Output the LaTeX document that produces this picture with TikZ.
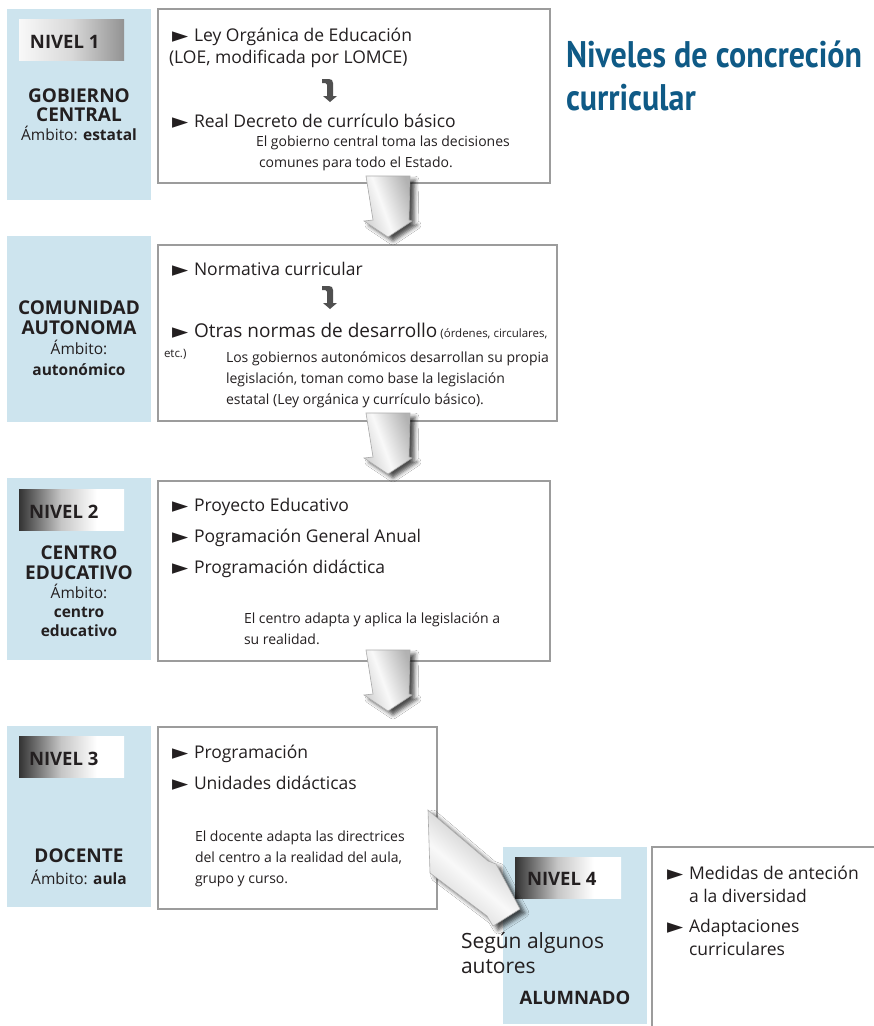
\documentclass[tikz,border=0pt]{standalone}
\usepackage{fontspec}
\setmainfont{Open Sans}
\newfontfamily\symfont{DejaVu Sans}
\newfontfamily\titlefont[FakeStretch=0.865]{PT Sans}
\usetikzlibrary{shadows.blur}
\definecolor{panelblue}{HTML}{CDE4EE}
\definecolor{boxgray}{HTML}{9C9C9C}
\definecolor{titleblue}{HTML}{0F5A86}
\definecolor{txt}{HTML}{231F20}
\definecolor{hookgray}{HTML}{505050}
\pgfdeclarehorizontalshading{nivdark}{100bp}{color(0bp)=(black!80); color(25bp)=(black!80); color(45bp)=(gray!45); color(62bp)=(white); color(100bp)=(white)}
\pgfdeclarehorizontalshading{nivlight}{100bp}{color(0bp)=(gray!5); color(25bp)=(gray!5); color(50bp)=(gray!30); color(75bp)=(gray!85); color(100bp)=(gray!85)}
\pgfdeclarehorizontalshading{arrsh}{100bp}{color(0bp)=(gray!35); color(25bp)=(gray!35); color(45bp)=(white!95!gray); color(75bp)=(gray!60); color(100bp)=(gray!60)}
\newcommand\tri{\makebox[22pt][l]{\symfont\fontsize{21}{21}\selectfont\raisebox{-1pt}{►}}}
\begin{document}
\begin{tikzpicture}[x=1pt,y=-1pt,
  every node/.style={inner sep=0pt, outer sep=0pt, text=txt},
  panel/.style={fill=panelblue, anchor=north west},
  cbox/.style={draw=boxgray, line width=1.4pt, fill=white, anchor=north west},
  lbl/.style={anchor=base west, font=\fontsize{17.5}{21}\selectfont},
  note/.style={anchor=base west, font=\fontsize{14}{21}\selectfont},
  side/.style={anchor=base, font=\fontsize{19}{19}\selectfont\bfseries},
  amb/.style={anchor=base, font=\fontsize{15.5}{20}\selectfont},
  nivbox/.style={anchor=north west, minimum width=105pt, minimum height=41pt, shading=#1},
  nivtxt/.style={anchor=base west, font=\fontsize{18.5}{20}\selectfont\bfseries},
  bigarrow/.style={draw=gray!65, line width=0.6pt, shading=arrsh, shading angle=20,
     blur shadow={shadow xshift=5pt, shadow yshift=-4pt, shadow blur radius=4pt, shadow opacity=70}},
  downarrow/.pic={\path[bigarrow] (-22,0) -- (-15,44) -- (-24,45) -- (0,61) -- (24,45) -- (21,44) -- (22,0) -- cycle;},
  hook/.pic={\fill[hookgray] (0,0) -- (7,0) .. controls (9.5,0) and (11,1.5) .. (11,4) -- (11,17) -- (15,17) -- (8,23) -- (1,17) -- (5,17) -- (5,5.5) .. controls (5,4.5) and (4.5,4) .. (3.5,4) -- (0,4) -- cycle;}
]
\useasboundingbox[fill=white] (0,0) rectangle (874,1026);

% ---------- left panels ----------
\node[panel, minimum width=144pt, minimum height=191pt] (p1) at (7,9) {};
\node[panel, minimum width=144pt, minimum height=186pt] (p2) at (7,236) {};
\node[panel, minimum width=144pt, minimum height=182pt] (p3) at (7,478) {};
\node[panel, minimum width=144pt, minimum height=181pt] (p4) at (7,726) {};
\node[panel, minimum width=144pt, minimum height=177pt] (p5) at (503,847) {};

% ---------- content boxes ----------
\node[cbox, minimum width=392pt, minimum height=174pt] (b1) at (158,9) {};
\node[cbox, minimum width=399pt, minimum height=176pt] (b2) at (158,245) {};
\node[cbox, minimum width=392pt, minimum height=180pt] (b3) at (158,481) {};
\node[cbox, minimum width=279pt, minimum height=182pt] (b4) at (158,727) {};
\node[anchor=north west, minimum width=222pt, minimum height=179pt] (b5) at (652,847) {};
\draw[boxgray, line width=1.4pt] (b5.south west) -- (b5.north west) -- (b5.north east);

% ---------- nivel labels ----------
\node[nivbox=nivlight] (n1) at (19,19) {};
\node[nivtxt] at (30,48) {NIVEL 1};
\node[nivbox=nivdark] (n2) at (19,489) {};
\node[nivtxt] at (29,518) {NIVEL 2};
\node[nivbox=nivdark] (n3) at (19,736) {};
\node[nivtxt] at (29,765) {NIVEL 3};
\node[nivbox=nivdark, minimum width=106pt] (n4) at (515,857) {};
\node[nivtxt] at (527,885) {NIVEL 4};

% ---------- side texts ----------
\node[side] at (79,102) {GOBIERNO};
\node[side] at (79,121) {CENTRAL};
\node[amb] at (79,140) {Ámbito: \textbf{estatal}};

\node[side] at (79,314) {COMUNIDAD};
\node[side] at (79,334) {AUTONOMA};
\node[amb] at (79,354) {Ámbito:};
\node[amb] at (79,375) {\textbf{autonómico}};

\node[side] at (79,559) {CENTRO};
\node[side] at (79,579) {EDUCATIVO};
\node[amb] at (79,598) {Ámbito:};
\node[amb] at (79,617) {\textbf{centro}};
\node[amb] at (79,636) {\textbf{educativo}};

\node[side] at (79,862) {DOCENTE};
\node[amb] at (79,884) {Ámbito: \textbf{aula}};

\node[anchor=base west, font=\fontsize{21}{21}\selectfont] at (461,948) {Según algunos};
\node[anchor=base west, font=\fontsize{21}{21}\selectfont] at (461,973) {autores};
\node[anchor=base, font=\fontsize{18.5}{19}\selectfont\bfseries] at (575,1004) {ALUMNADO};

% ---------- title ----------
\node[anchor=base west, font=\titlefont\bfseries\fontsize{37}{37}\selectfont, text=titleblue] (t1) at (566,67) {Niveles de concreción};
\node[anchor=base west, font=\titlefont\bfseries\fontsize{37}{37}\selectfont, text=titleblue] (t2) at (566,110) {curricular};

% ---------- box 1 ----------
\node[lbl] at (172,41) {\tri Ley Orgánica de Educación};
\node[lbl] at (169,63) {(LOE, modificada por LOMCE)};
\pic at (322,79) {hook};
\node[lbl] at (172,127) {\tri Real Decreto de currículo básico};
\node[note] at (256,146) {El gobierno central toma las decisiones};
\node[note] at (259,167) {comunes para todo el Estado.};

% ---------- box 2 ----------
\node[lbl] at (172,275) {\tri Normativa curricular};
\pic at (322,286) {hook};
\node[lbl] at (172,337) {\tri\fontsize{19}{20}\selectfont Otras normas de desarrollo\fontsize{11.5}{14}\selectfont\ (órdenes, circulares,};
\node[anchor=base west, font=\fontsize{11.5}{14}\selectfont] at (164,357) {etc.)};
\node[note] at (226,362) {Los gobiernos autonómicos desarrollan su propia};
\node[note] at (226,383) {legislación, toman como base la legislación};
\node[note] at (226,404) {estatal (Ley orgánica y currículo básico).};

% ---------- box 3 ----------
\node[lbl] at (172,511) {\tri Proyecto Educativo};
\node[lbl] at (172,542) {\tri Pogramación General Anual};
\node[lbl] at (172,573) {\tri Programación didáctica};
\node[note] at (244,623) {El centro adapta y aplica la legislación a};
\node[note] at (244,644) {su realidad.};

% ---------- box 4 ----------
\node[lbl] at (172,758) {\tri Programación};
\node[lbl] at (172,789) {\tri Unidades didácticas};
\node[note] at (195,841) {El docente adapta las directrices};
\node[note] at (195,862) {del centro a la realidad del aula,};
\node[note] at (195,883) {grupo y curso.};

% ---------- box 5 ----------
\node[lbl] at (667,879) {\tri Medidas de anteción};
\node[lbl] at (689,902) {a la diversidad};
\node[lbl] at (667,932) {\tri Adaptaciones};
\node[lbl] at (689,955) {curriculares};

% ---------- big arrows ----------
\pic at (388,176) {downarrow};
\pic at (388,413) {downarrow};
\pic at (388,650) {downarrow};
\path[bigarrow, shading angle=50] (428,810) -- (488,861) -- (496,864) -- (520,909) -- (493,926) -- (487,916) -- (430,873) -- cycle;
\end{tikzpicture}
\end{document}
